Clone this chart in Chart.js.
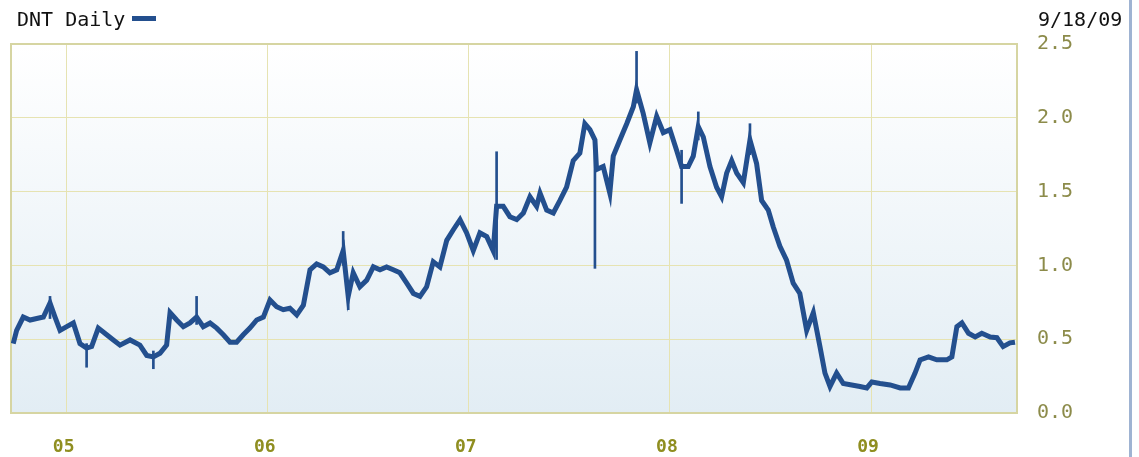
<!DOCTYPE html>
<html>
<head>
<meta charset="utf-8">
<script src="https://cdn.jsdelivr.net/npm/chart.js@4"></script>
<style>
  html, body { margin:0; padding:0; background:#fff; }
  #wrap { position:relative; width:1139px; height:457px; overflow:hidden; }
  #c { position:absolute; left:0; top:0; }
  .txt { position:absolute; font-family:'DejaVu Sans Mono', monospace; font-size:20px; color:#111; white-space:nowrap; }
  #title { left:17px; top:7px; }
  #dash { position:absolute; left:132px; top:16px; width:24px; height:5px; background:#234f8e; }
  #date { left:1038px; top:7px; }
  #frame { position:absolute; left:1129px; top:0; width:3px; height:457px; background:#9fb3d2; z-index:5; }
</style>
</head>
<body>
<div id="wrap">
  <canvas id="c" width="1139" height="457"></canvas>
  <div class="txt" id="title">DNT Daily</div>
  <div id="dash"></div>
  <div class="txt" id="date">9/18/09</div>
  <div id="frame"></div>
</div>
<script>
// ---- data (decimal years / price) ----
const years = [
 2004.734,2004.751,2004.784,2004.818,2004.851,2004.884,2004.917,2004.942,2004.967,2005.000,
 2005.033,2005.066,2005.099,2005.124,2005.157,2005.199,2005.232,2005.265,2005.315,2005.364,
 2005.398,2005.431,2005.464,2005.497,2005.514,2005.547,2005.580,2005.613,2005.646,2005.679,
 2005.713,2005.746,2005.779,2005.812,2005.845,2005.878,2005.911,2005.945,2005.978,2006.011,
 2006.044,2006.077,2006.110,2006.144,2006.177,2006.210,2006.243,2006.276,2006.309,2006.343,
 2006.375,2006.400,2006.425,2006.458,2006.492,2006.525,2006.558,2006.591,2006.624,2006.657,
 2006.691,2006.724,2006.757,2006.790,2006.823,2006.856,2006.890,2006.922,2006.956,2006.989,
 2007.022,2007.055,2007.089,2007.121,2007.138,2007.171,2007.204,2007.238,2007.271,2007.304,
 2007.337,2007.354,2007.387,2007.420,2007.453,2007.486,2007.519,2007.552,2007.577,2007.602,
 2007.627,2007.635,2007.668,2007.701,2007.718,2007.751,2007.785,2007.818,2007.834,2007.867,
 2007.900,2007.934,2007.967,2008.000,2008.033,2008.058,2008.091,2008.116,2008.141,2008.166,
 2008.199,2008.232,2008.257,2008.282,2008.307,2008.332,2008.365,2008.398,2008.431,2008.456,
 2008.489,2008.514,2008.547,2008.580,2008.613,2008.646,2008.680,2008.713,2008.746,2008.771,
 2008.796,2008.829,2008.862,2008.904,2008.945,2008.979,2009.004,2009.045,2009.095,2009.145,
 2009.186,2009.219,2009.244,2009.286,2009.327,2009.377,2009.402,2009.427,2009.452,2009.485,
 2009.518,2009.551,2009.593,2009.626,2009.657,2009.691,2009.716
];
const closes = [
 0.47,0.56,0.65,0.63,0.64,0.65,0.745,0.65,0.56,0.585,
 0.61,0.47,0.44,0.45,0.575,0.53,0.495,0.46,0.495,0.46,
 0.39,0.38,0.405,0.46,0.68,0.63,0.585,0.61,0.65,0.585,
 0.61,0.575,0.53,0.48,0.48,0.53,0.575,0.63,0.65,0.765,
 0.72,0.70,0.71,0.665,0.73,0.97,1.01,0.99,0.95,0.97,
 1.10,0.79,0.95,0.855,0.90,0.99,0.97,0.99,0.97,0.95,
 0.88,0.81,0.79,0.855,1.025,0.99,1.17,1.24,1.31,1.22,
 1.10,1.22,1.195,1.10,1.40,1.40,1.33,1.31,1.355,1.465,
 1.40,1.49,1.375,1.355,1.44,1.53,1.71,1.76,1.96,1.92,
 1.85,1.65,1.67,1.49,1.74,1.85,1.96,2.075,2.19,2.03,
 1.83,2.01,1.90,1.92,1.78,1.67,1.67,1.74,1.94,1.87,
 1.67,1.53,1.465,1.625,1.71,1.625,1.56,1.85,1.69,1.44,
 1.375,1.26,1.13,1.035,0.88,0.81,0.56,0.68,0.45,0.27,
 0.18,0.27,0.20,0.19,0.18,0.17,0.21,0.20,0.19,0.17,
 0.17,0.27,0.36,0.38,0.36,0.36,0.38,0.585,0.61,0.54,
 0.515,0.54,0.515,0.51,0.45,0.475,0.48
];
// intraday high/low spikes
const spikeYears = [2004.917,2005.099,2005.431,2005.646,2006.375,2006.400,2007.138,2007.627,2007.834,2008.058,2008.141,2008.398];
const spikeLows  = [0.64,0.31,0.30,0.60,1.00,0.70,1.04,0.98,2.10,1.42,1.85,1.75];
const spikeHighs = [0.79,0.47,0.42,0.79,1.23,0.82,1.77,1.85,2.45,1.78,2.04,1.96];
const xTickYears = [2005,2006,2007,2008,2009];
const xTickLabels = ['05','06','07','08','09'];
const yTickValues = [0,0.5,1.0,1.5,2.0,2.5];

const LINE = '#234f8e';
const GRID = '#e6e3b2';

const bgPlugin = {
  id:'bg',
  beforeDraw(chart){
    const {ctx, chartArea:a} = chart;
    const g = ctx.createLinearGradient(0,a.top,0,a.bottom);
    g.addColorStop(0,'#ffffff');
    g.addColorStop(1,'#e2edf4');
    ctx.save(); ctx.fillStyle=g; ctx.fillRect(a.left,a.top,a.right-a.left,a.bottom-a.top); ctx.restore();
  },
  beforeDatasetsDraw(chart){
    const {ctx, chartArea:a} = chart;
    ctx.save(); ctx.strokeStyle='#d6d5a2'; ctx.lineWidth=2;
    ctx.strokeRect(a.left,a.top,a.right-a.left,a.bottom-a.top); ctx.restore();
  }
};

new Chart(document.getElementById('c'), {
  type:'line',
  data:{
    datasets:[
      {
        type:'bar',
        data: spikeYears.map((x,i)=>({x:x, y:[spikeLows[i], spikeHighs[i]]})),
        backgroundColor: LINE, borderWidth:0, barThickness:2, grouped:false
      },
      {
        type:'line',
        data: years.map((x,i)=>({x:x, y:closes[i]})),
        borderColor: LINE, borderWidth:5, pointRadius:0, tension:0, fill:false
      }
    ]
  },
  options:{
    responsive:false, animation:false, devicePixelRatio:1,
    layout:{ padding:{ left:11, top:44, right:0, bottom:0 } },
    plugins:{ legend:{display:false}, tooltip:{enabled:false} },
    scales:{
      x:{
        type:'linear', min:2004.723, max:2009.726, offset:false,
        afterBuildTicks(s){ s.ticks = xTickYears.map(v=>({value:v})); },
        afterFit(s){ s.height = 44; },
        grid:{ color:GRID, lineWidth:1, drawTicks:false, offset:false },
        border:{ display:false },
        ticks:{
          padding:24, color:'#8f8e20', maxRotation:0, autoSkip:false, labelOffset:-3,
          font:{ family:'DejaVu Sans Mono', size:18, weight:'bold' },
          callback(v){ const i = xTickYears.indexOf(v); return i>=0 ? xTickLabels[i] : ''; }
        }
      },
      y:{
        position:'right', min:0, max:2.5,
        afterBuildTicks(s){ s.ticks = yTickValues.map(v=>({value:v})); },
        afterFit(s){ s.width = 122; },
        grid:{ color:GRID, lineWidth:1, drawTicks:false },
        border:{ display:false },
        ticks:{
          padding:20, color:'#8c8b4a',
          font:{ family:'DejaVu Sans Mono', size:20 },
          callback(v){ return v.toFixed(1); }
        }
      }
    }
  },
  plugins:[bgPlugin]
});
</script>
</body>
</html>
